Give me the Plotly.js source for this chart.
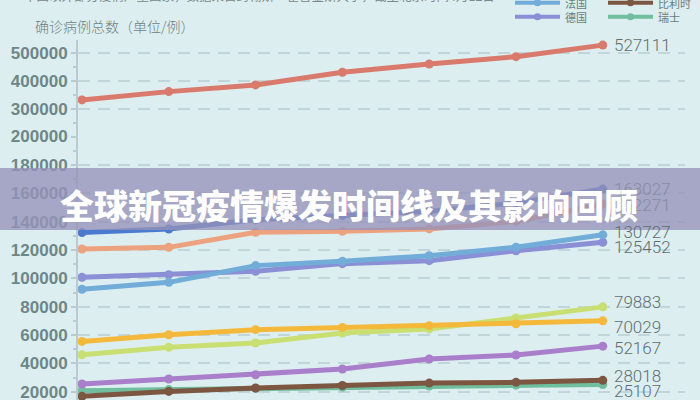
<!DOCTYPE html>
<html>
<head>
<meta charset="utf-8">
<script src="https://cdn.plot.ly/plotly-3.0.1.min.js"></script>
<style>html,body{margin:0;padding:0;background:#ddeef0;}#chart{width:700px;height:400px;}</style>
</head>
<body>
<div id="chart"></div>
<script>
// ---------- data ----------
const dates = ['4月5日','4月6日','4月7日','4月8日','4月9日','4月10日','4月11日'];
const countries = ['美国','西班牙','意大利','法国','德国','英国','伊朗','土耳其','比利时','瑞士'];
const usa         = [331000, 360700, 384600, 430000, 459600, 485700, 527111];
const spain       = [132300, 134800, 141400, 144300, 147300, 153300, 163027];
const italy       = [120700, 121900, 132500, 133200, 134900, 140200, 152271];
const france      = [92300, 97200, 109000, 112000, 116000, 122000, 130727];
const germany     = [100700, 102600, 105000, 110400, 112500, 119500, 125452];
const uk          = [46100, 51300, 54400, 61400, 64300, 72000, 79883];
const iran        = [55500, 60200, 63800, 65400, 66600, 68000, 70029];
const turkey      = [25400, 29000, 32000, 36000, 43100, 45900, 52167];
const belgium     = [16700, 20200, 22600, 24400, 26100, 26600, 28018];
const switzerland = [20700, 21500, 22300, 23200, 24000, 24600, 25107];
const lowerTicks = [20000, 40000, 60000, 80000, 100000, 120000, 140000, 160000, 180000];
const upperTicks = [200000, 300000, 400000, 500000];
const titleText = '全球新冠疫情爆发时间线及其影响回顾';
const subtitleText = '确诊病例总数（单位/例）';
const noteText = '中国以外部分疫情严重国家，数据来自约翰斯·霍普金斯大学，截至北京时间4月12日';

// ---------- styles ----------
const values = [usa, spain, italy, france, germany, uk, iran, turkey, belgium, switzerland];
const colors = ['#d97a6c','#4b7bd0','#eca27e','#72acd9','#8a8fd6','#c9df72','#f4b93a','#a97fcc','#7d5641','#6fbf9f'];
const axisOf = ['y2','y','y','y','y','y','y','y','y','y'];
const labelShift = [0, 0, -1, 3, -5, 5, -6, -2, 4, -7];
const labelOpacity = [1, 0.45, 0.45, 1, 1, 1, 1, 1, 1, 1];
const drawOrder = [9, 8, 7, 5, 6, 4, 3, 2, 1, 0];

const L = 78, R = 15, T = 0, B = 0, W = 700, H = 400;
const pw = W - L - R;
const px = v => (v - L) / pw;          // pixel x -> paper x
const py = v => (H - v) / H;           // pixel y -> paper y
const split = py(136.7);
const topDom = py(40);

const axisCol = '#b9cbcf';
const tickFont = {family: 'Liberation Sans, Arial, sans-serif', size: 17, color: '#6d8787', weight: 'bold'};
const grid = {showgrid: true, gridcolor: 'rgba(175,198,203,0.6)', gridwidth: 2, griddash: '12px,8px'};

const traces = drawOrder.map(i => ({
  x: dates, y: values[i], yaxis: axisOf[i], type: 'scatter', mode: 'lines+markers',
  name: countries[i], showlegend: false, cliponaxis: false,
  line: {color: colors[i], width: 5},
  marker: {color: colors[i], size: 9},
  hoverinfo: 'skip'
}));

const annotations = [];
values.forEach((arr, i) => {
  annotations.push({
    x: dates[dates.length - 1], y: arr[arr.length - 1], xref: 'x', yref: axisOf[i],
    text: String(arr[arr.length - 1]), showarrow: false, xanchor: 'left', yanchor: 'middle',
    xshift: 9, yshift: labelShift[i], opacity: labelOpacity[i],
    font: {family: 'Roboto, sans-serif', size: 17, color: '#5e6f70', weight: 300}
  });
});

// manual legend (two columns, bottom two rows visible)
const shapes = [];
const legendRows = 5;
countries.forEach((c, i) => {
  const col = Math.floor(i / legendRows), row = i % legendRows;
  const yy = 16.7 - (legendRows - 1 - row) * 14;
  const x0 = col === 0 ? 515 : 608;
  shapes.push({type: 'line', xref: 'paper', yref: 'paper', x0: px(x0), x1: px(x0 + 45), y0: py(yy), y1: py(yy),
    line: {color: colors[i], width: 4}});
  shapes.push({type: 'circle', xref: 'paper', yref: 'paper', x0: px(x0 + 19), x1: px(x0 + 26), y0: py(yy + 3.5), y1: py(yy - 3.5),
    fillcolor: colors[i], line: {width: 0}});
  annotations.push({xref: 'paper', yref: 'paper', x: px(x0 + 48), y: py(yy), xanchor: 'left', yanchor: 'middle',
    text: c, showarrow: false, font: {family: 'Noto Sans CJK SC, sans-serif', size: 11, color: '#6a7c7d'}});
});

// title band
shapes.push({type: 'rect', xref: 'paper', yref: 'paper', x0: px(0), x1: px(700), y0: py(230), y1: py(168),
  fillcolor: 'rgba(150,146,186,0.78)', line: {width: 0}, layer: 'above'});

annotations.push({xref: 'paper', yref: 'paper', x: px(33), y: py(26), xanchor: 'left', yanchor: 'middle',
  text: subtitleText, showarrow: false, font: {family: 'Noto Sans CJK SC, sans-serif', size: 14, color: '#6d7f80', weight: 300}});
annotations.push({xref: 'paper', yref: 'paper', x: px(22), y: py(-4), xanchor: 'left', yanchor: 'middle',
  text: noteText, showarrow: false, font: {family: 'Noto Sans CJK SC, sans-serif', size: 12.5, color: '#7a8a8b'}});
annotations.push({xref: 'paper', yref: 'paper', x: px(349), y: py(205), xanchor: 'center', yanchor: 'middle',
  text: titleText, showarrow: false, font: {family: 'Noto Sans CJK SC, sans-serif', size: 34, color: '#ffffff', weight: 900}});

const yCommon = Object.assign({
  showline: true, linecolor: axisCol, linewidth: 2, ticks: 'outside', ticklen: 5, tickwidth: 2, tickcolor: axisCol,
  tickfont: tickFont, tickmode: 'array', tickformat: 'd', zeroline: false, fixedrange: true, ticklabeloverflow: 'allow'
}, grid);

const layout = {
  width: W, height: H, margin: {l: L, r: R, t: T, b: B},
  paper_bgcolor: '#ddeef0', plot_bgcolor: 'rgba(0,0,0,0)',
  xaxis: {type: 'category', range: [-0.046, 6.947], showticklabels: false, showgrid: false, zeroline: false, showline: false, ticks: '', anchor: 'y', fixedrange: true},
  yaxis: Object.assign({}, yCommon, {domain: [0, split], range: [14140, 200000], tickvals: lowerTicks, anchor: 'x',
    minor: {ticks: 'outside', ticklen: 3, tickcolor: axisCol, tickwidth: 2, dtick: 10000, tick0: 0, showgrid: false}}),
  yaxis2: Object.assign({}, yCommon, {domain: [split, topDom], range: [199400, 545400], tickvals: upperTicks, anchor: 'x',
    minor: {ticks: 'outside', ticklen: 3, tickcolor: axisCol, tickwidth: 2, dtick: 50000, tick0: 0, showgrid: false}}),
  shapes: shapes, annotations: annotations, showlegend: false
};

Plotly.newPlot('chart', traces, layout, {displayModeBar: false, staticPlot: true});
</script>
</body>
</html>
